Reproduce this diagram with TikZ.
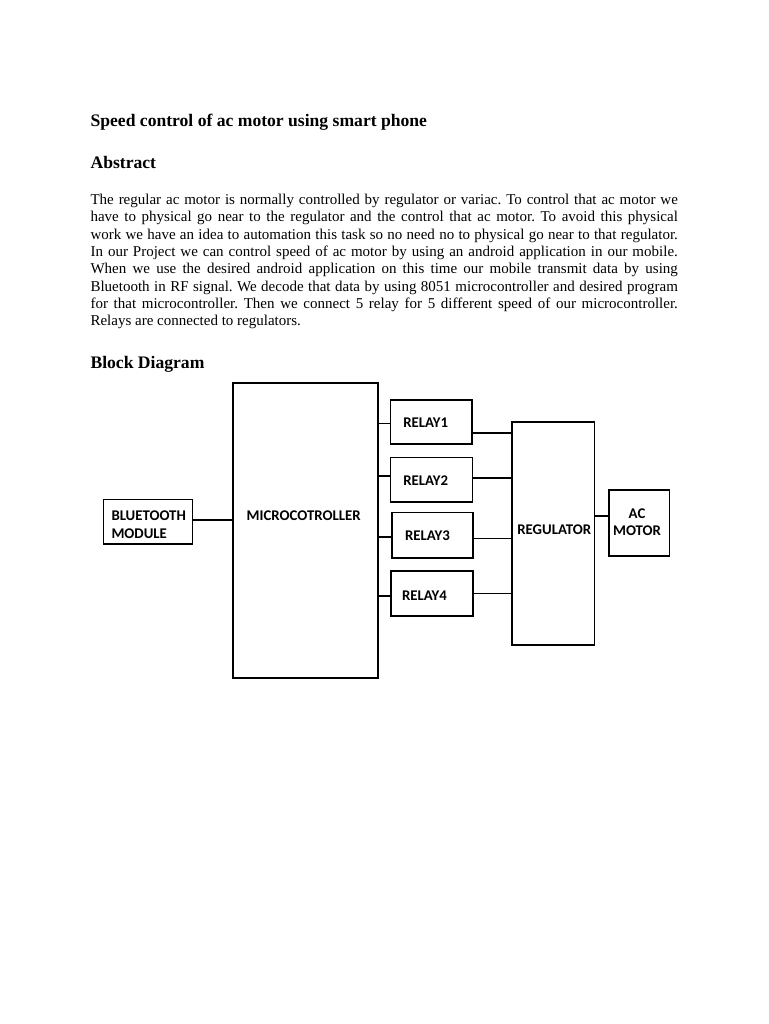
\documentclass[tikz,border=0pt]{standalone}
\usepackage{fontspec}
\setmainfont{Liberation Serif}
\newfontfamily\diagfont{Carlito}
\frenchspacing
\begin{document}
\begin{tikzpicture}[x=1pt,y=-1pt,
  heading/.style={anchor=base west, inner sep=0pt, font=\fontsize{17.6}{20}\selectfont\bfseries},
  body/.style={anchor=base west, inner sep=0pt, font=\fontsize{15}{17.3}\selectfont},
  blk/.style={draw, line width=1.6pt, inner sep=0pt},
  lbl/.style={inner sep=0pt, font=\diagfont\bfseries\fontsize{14.8}{17.6}\selectfont},
  wire/.style={line width=1.6pt}]
\useasboundingbox (0,0) rectangle (768,1024);
\fill[white] (0,0) rectangle (768,1024);

% text
\node[heading] (title) at (90.35,126.5) {Speed control of ac motor using smart phone};
\node[heading] (abs) at (90.35,168.2) {Abstract};
\node[body] (p1) at (90.35,204.5) {\makebox[587.3pt][s]{The regular ac motor is normally controlled by regulator or variac. To control that ac motor we}};
\node[body] (p2) at (90.35,221.8) {\makebox[587.3pt][s]{have to physical go near to the regulator and the control that ac motor. To avoid this physical}};
\node[body] (p3) at (90.35,239.1) {\makebox[587.3pt][s]{work we have an idea to automation this task so no need no to physical go near to that regulator.}};
\node[body] (p4) at (90.35,256.4) {\makebox[587.3pt][s]{In our Project we can control speed of ac motor by using an android application in our mobile.}};
\node[body] (p5) at (90.35,273.7) {\makebox[587.3pt][s]{When we use the desired android application on this time our mobile transmit data by using}};
\node[body] (p6) at (90.35,291.0) {\makebox[587.3pt][s]{Bluetooth in RF signal. We decode that data by using 8051 microcontroller and desired program}};
\node[body] (p7) at (90.35,308.3) {\makebox[587.3pt][s]{for that microcontroller. Then we connect 5 relay for 5 different speed of our microcontroller.}};
\node[body] (p8) at (90.35,325.6) {Relays are connected to regulators.};
\node[heading] (bd) at (90.35,368.2) {Block Diagram};

% blocks
\node[blk, minimum width=89pt, minimum height=44.7pt] (bt) at (147.8,521.7) {};
\node[blk, minimum width=145.3pt, minimum height=294.7pt] (mcu) at (305.35,530.35) {};
\node[blk, minimum width=81.3pt, minimum height=44pt] (r1) at (431.3,422) {};
\node[blk, minimum width=82pt, minimum height=44.3pt] (r2) at (431.3,479.8) {};
\node[blk, minimum width=81pt, minimum height=45.3pt] (r3) at (432.5,535.3) {};
\node[blk, minimum width=82pt, minimum height=45pt] (r4) at (432,593.2) {};
\node[blk, minimum width=82.6pt, minimum height=223.3pt] (reg) at (553,533.35) {};
\node[blk, minimum width=60.6pt, minimum height=66pt] (motor) at (639,523) {};

% labels
\node[lbl, anchor=west, align=left] (btl) at (111.3,524.5) {BLUETOOTH\\MODULE};
\node[lbl] (mcul) at (303.7,515.7) {MICROCOTROLLER};
\node[lbl] (r1l) at (425.7,423) {RELAY1};
\node[lbl] (r2l) at (425.7,480.5) {RELAY2};
\node[lbl] (r3l) at (427.5,536) {RELAY3};
\node[lbl] (r4l) at (424.5,596) {RELAY4};
\node[lbl] (regl) at (554.2,529.3) {REGULATOR};
\node[lbl, align=center] (motl) at (637,522) {AC\\MOTOR};

% connectors
\draw[wire] (bt.east |- 0,519.7) -- (mcu.west |- 0,519.7);
\draw[wire] (mcu.east |- 0,423.3) -- (r1.west |- 0,423.3);
\draw[wire] (mcu.east |- 0,476) -- (r2.west |- 0,476);
\draw[wire] (mcu.east |- 0,536.7) -- (r3.west |- 0,536.7);
\draw[wire] (mcu.east |- 0,596) -- (r4.west |- 0,596);
\draw[wire] (r1.east |- 0,432.7) -- (reg.west |- 0,432.7);
\draw[wire] (r2.east |- 0,477.7) -- (reg.west |- 0,477.7);
\draw[wire] (r3.east |- 0,538.3) -- (reg.west |- 0,538.3);
\draw[wire] (r4.east |- 0,593.3) -- (reg.west |- 0,593.3);
\draw[wire] (reg.east |- 0,516) -- (motor.west |- 0,516);
\end{tikzpicture}
\end{document}
